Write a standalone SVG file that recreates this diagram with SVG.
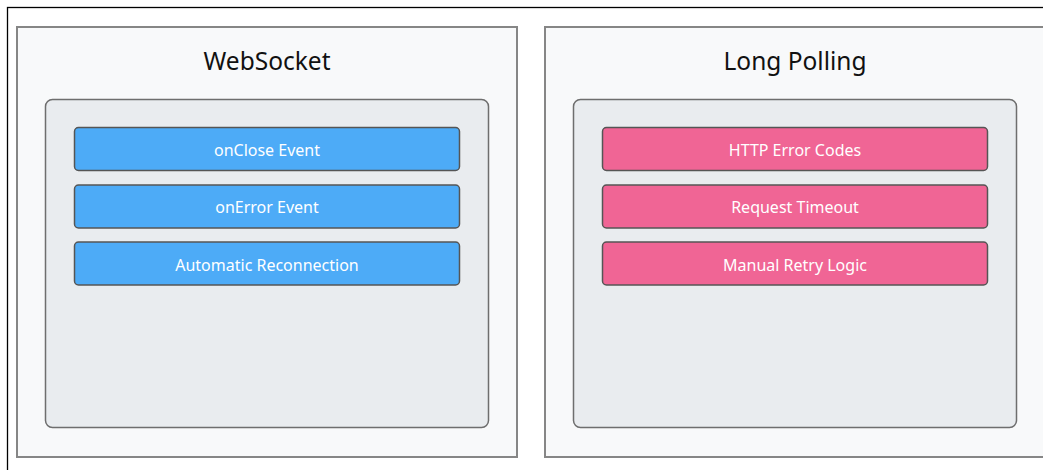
<svg xmlns="http://www.w3.org/2000/svg" width="1043" height="470" viewBox="0 0 1043 470">
  <style>
    .frame { fill: #ffffff; stroke: #000000; stroke-width: 1.3; }
    .panel { fill: #f8f9fa; stroke: #868686; stroke-width: 2; }
    .inner { fill: #e9ecef; stroke: #6e6e6e; stroke-width: 1.5; }
    .item { stroke: #555555; stroke-width: 1.5; }
    .ws { fill: #4dabf7; }
    .lp { fill: #f06595; }
    .title { font-family: "Noto Sans", "Open Sans", "Liberation Sans", sans-serif; font-size: 24.5px; fill: #111111; text-anchor: middle; }
    .label { font-family: "Noto Sans", "Open Sans", "Liberation Sans", sans-serif; font-size: 16px; fill: #ffffff; text-anchor: middle; }
  </style>

  <rect width="1043" height="470" fill="#ffffff"/>
  <rect class="frame" x="7.5" y="7.5" width="1060" height="480"/>

  <!-- WebSocket column -->
  <g id="websocket">
    <rect class="panel" x="17" y="27" width="500" height="430"/>
    <text class="title" x="267" y="69.5">WebSocket</text>
    <rect class="inner" x="45.5" y="99.5" width="443" height="328" rx="7"/>
  </g>
  <g id="ws-onclose">
    <rect class="item ws" x="74.5" y="127.5" width="385" height="43" rx="4"/>
    <text class="label" x="267" y="155.5">onClose Event</text>
  </g>
  <g id="ws-onerror">
    <rect class="item ws" x="74.5" y="185" width="385" height="43" rx="4"/>
    <text class="label" x="267" y="213">onError Event</text>
  </g>
  <g id="ws-reconnect">
    <rect class="item ws" x="74.5" y="242" width="385" height="43" rx="4"/>
    <text class="label" x="267" y="270.5">Automatic Reconnection</text>
  </g>

  <!-- Long Polling column -->
  <g id="longpolling">
    <rect class="panel" x="545" y="27" width="510" height="430"/>
    <text class="title" x="795" y="69.5">Long Polling</text>
    <rect class="inner" x="573.5" y="99.5" width="443" height="328" rx="7"/>
  </g>
  <g id="lp-http">
    <rect class="item lp" x="602.5" y="127.5" width="385" height="43" rx="4"/>
    <text class="label" x="795" y="155.5">HTTP Error Codes</text>
  </g>
  <g id="lp-timeout">
    <rect class="item lp" x="602.5" y="185" width="385" height="43" rx="4"/>
    <text class="label" x="795" y="213">Request Timeout</text>
  </g>
  <g id="lp-retry">
    <rect class="item lp" x="602.5" y="242" width="385" height="43" rx="4"/>
    <text class="label" x="795" y="270.5">Manual Retry Logic</text>
  </g>

  <g id="connectors"/>
</svg>
